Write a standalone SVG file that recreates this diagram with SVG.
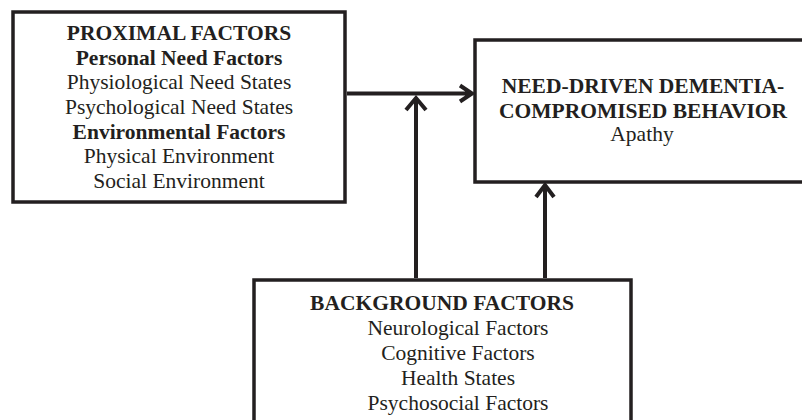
<svg xmlns="http://www.w3.org/2000/svg" width="802" height="420" viewBox="0 0 802 420">
<style>
.box{fill:#fff;stroke:#231f20;stroke-width:3.5}
.t{font-family:"Liberation Serif","Times New Roman",serif;font-size:21.5px;fill:#231f20;text-anchor:middle}
.b{font-weight:bold}
.ln{fill:none;stroke:#231f20;stroke-width:4}
</style>
<rect width="802" height="420" fill="#fff"/>
<g id="proximal">
<rect class="box" x="13" y="12" width="332" height="190"/>
<text class="t b" x="179" y="40">PROXIMAL FACTORS</text>
<text class="t b" x="179" y="64.5">Personal Need Factors</text>
<text class="t" x="179" y="89">Physiological Need States</text>
<text class="t" x="179" y="114">Psychological Need States</text>
<text class="t b" x="179" y="138.5">Environmental Factors</text>
<text class="t" x="179" y="163">Physical Environment</text>
<text class="t" x="179" y="188">Social Environment</text>
</g>
<g id="behavior">
<rect class="box" x="475" y="40" width="340" height="142"/>
<text class="t b" x="643" y="93">NEED-DRIVEN DEMENTIA-</text>
<text class="t b" x="643" y="118">COMPROMISED BEHAVIOR</text>
<text class="t" x="642" y="141">Apathy</text>
</g>
<g id="background">
<rect class="box" x="254" y="280" width="377" height="160"/>
<text class="t b" x="442" y="310">BACKGROUND FACTORS</text>
<text class="t" x="458" y="335">Neurological Factors</text>
<text class="t" x="458" y="360">Cognitive Factors</text>
<text class="t" x="458" y="384.5">Health States</text>
<text class="t" x="458" y="410">Psychosocial Factors</text>
</g>
<g id="connectors">
<path class="ln" d="M347 93.5H472M460 85.5L472 93.5L460 101.5"/>
<path class="ln" d="M416 278V98M406 110L416 98L426 110"/>
<path class="ln" d="M545 278V185M536 197L545 185L554 197"/>
</g>
</svg>
